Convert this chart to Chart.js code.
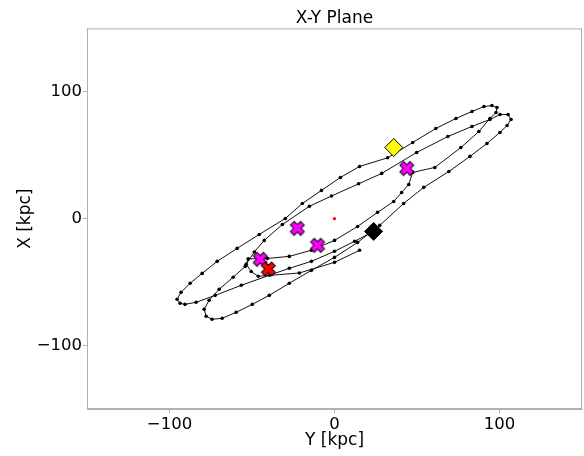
<!DOCTYPE html>
<html>
<head>
<meta charset="utf-8">
<script src="https://cdn.jsdelivr.net/npm/chart.js@4"></script>
<style>
  html, body { margin: 0; padding: 0; background: #fff; }
  #wrap { width: 584px; height: 456px; }
</style>
</head>
<body>
<div id="wrap"><canvas id="orbitChart"></canvas></div>
<script>
// orbit track, horizontal = Y [kpc], vertical = X [kpc]
const orbitY = [23.7, 12.2, 0.0, -14.0, -27.4, -39.5, -56.5, -72.3, -83.9, -90.6, -93.6, -95.4, -93.0, -87.5, -80.2, -71.1, -59.0, -45.6, -29.8, -19.5, -7.9, 3.6, 15.2, 32.2, 47.4, 61.4, 73.6, 83.3, 90.6, 95.4, 98.5, 97.9, 94.2, 87.5, 76.6, 60.8, 47.4, 45.0, 40.7, 35.9, 26.1, 14.0, 0.0, -14.0, -27.4, -40.7, -52.3, -54.1, -61.4, -69.9, -76.0, -79.0, -77.8, -74.2, -68.1, -59.6, -49.8, -39.5, -27.4, -14.0, 0.0, 14.0, 27.4, 41.9, 54.1, 69.3, 82.1, 92.4, 100.3, 104.6, 107.0, 105.2, 100.3, 94.2, 83.3, 68.7, 49.8, 28.6, 14.6, -1.8, -15.2, -31.6, -42.6, -48.6, -53.5, -50.5, -46.2, -21.3, 0.0, 15.2];
const orbitX = [-10.0, -17.8, -25.7, -33.6, -39.1, -44.6, -52.5, -60.4, -65.9, -67.5, -66.7, -63.5, -58.0, -50.9, -43.1, -33.6, -23.4, -12.4, 0.2, 12.0, 22.3, 32.5, 41.2, 48.0, 60.1, 71.1, 79.0, 84.5, 88.4, 89.2, 87.6, 83.7, 79.0, 68.7, 56.1, 40.4, 36.5, 27.0, 20.7, 13.6, 5.0, -6.1, -17.1, -24.9, -29.7, -31.3, -31.7, -37.6, -46.1, -55.6, -64.3, -71.4, -76.9, -79.3, -78.5, -73.8, -67.5, -60.4, -50.9, -40.7, -30.5, -18.7, -5.3, 12.0, 24.7, 37.2, 49.1, 59.3, 68.0, 73.5, 78.2, 82.1, 82.1, 78.2, 72.7, 64.8, 52.2, 35.7, 27.5, 17.9, 9.8, -4.6, -17.1, -26.2, -35.9, -41.6, -45.4, -42.8, -34.4, -24.9];

// markers
const startPt = { x: 35.9, y: 56.1 };
const endPt = { x: 23.7, y: -10.0 };
const crossY = [43.8, -22.5, -10.3, -45.0];
const crossX = [39.6, -7.6, -21.0, -32.0];
const redCross = { x: -40.1, y: -39.6 };
const centre = { x: 0, y: 0 };

const tickVals = [-100, 0, 100];
const FONT = "'DejaVu Sans', sans-serif";

function fatX(fill) {
  const c = document.createElement("canvas");
  c.width = 18; c.height = 18;
  const g = c.getContext("2d");
  g.translate(9, 9); g.rotate(Math.PI / 4);
  const L = 7.2, w = 2.6;
  g.beginPath();
  g.moveTo(-w, -L); g.lineTo(w, -L); g.lineTo(w, -w); g.lineTo(L, -w); g.lineTo(L, w); g.lineTo(w, w);
  g.lineTo(w, L); g.lineTo(-w, L); g.lineTo(-w, w); g.lineTo(-L, w); g.lineTo(-L, -w); g.lineTo(-w, -w);
  g.closePath();
  g.fillStyle = fill; g.fill();
  g.lineWidth = 1; g.strokeStyle = "#000"; g.stroke();
  return c;
}

const frame = {
  id: "frame",
  afterDraw(chart) {
    const a = chart.chartArea, ctx = chart.ctx;
    ctx.save();
    ctx.strokeStyle = "#b0b0b0"; ctx.lineWidth = 1;
    ctx.strokeRect(a.left + 0.5, a.top + 0.5, a.right - a.left - 1, a.bottom - a.top - 1);
    ctx.restore();
  }
};

const orbitPts = orbitY.map((v, i) => ({ x: v, y: orbitX[i] }));
const crossPts = crossY.map((v, i) => ({ x: v, y: crossX[i] }));
const fmt = v => (v < 0 ? "\u2212" + Math.abs(v) : String(v));

new Chart(document.getElementById("orbitChart"), {
  type: "scatter",
  data: { datasets: [
    { data: orbitPts, showLine: true, borderColor: "#111", borderWidth: 1, pointRadius: 1.8, pointBackgroundColor: "#000", pointBorderWidth: 0, order: 10 },
    { data: [centre], pointRadius: 1.6, pointBackgroundColor: "#ff0000", pointBorderWidth: 0, order: 5 },
    { data: [startPt], pointStyle: "rectRot", pointRadius: 9, pointBackgroundColor: "#ffff00", borderColor: "#000", pointBorderWidth: 1, order: 2 },
    { data: [endPt], pointStyle: "rectRot", pointRadius: 9, pointBackgroundColor: "#000", borderColor: "#000", pointBorderWidth: 1, order: 2 },
    { data: crossPts, pointStyle: fatX("#ff00ff"), order: 1 },
    { data: [redCross], pointStyle: fatX("#ff0000"), order: 0 }
  ]},
  options: {
    responsive: true, maintainAspectRatio: false, animation: false,
    layout: { autoPadding: false, padding: { left: 0, right: 2, top: 0, bottom: 0 } },
    plugins: {
      legend: { display: false }, tooltip: { enabled: false },
      title: { display: true, fullSize: false, text: "X-Y Plane", color: "#000", font: { family: FONT, size: 17, weight: "normal" }, padding: { top: 8, bottom: 0 } }
    },
    scales: {
      x: {
        min: -150, max: 150,
        afterBuildTicks: s => { s.ticks = tickVals.map(v => ({ value: v })); },
        afterFit: s => { s.height = 47; s.paddingLeft = 0; s.paddingRight = 0; },
        grid: { drawOnChartArea: false, drawTicks: true, tickLength: 4, color: "#b0b0b0" },
        border: { color: "#b0b0b0" },
        ticks: { color: "#000", font: { family: FONT, size: 16.5 }, padding: 2, maxRotation: 0, callback: fmt },
        title: { display: true, text: "Y [kpc]", color: "#000", font: { family: FONT, size: 17 }, padding: { top: 0, bottom: 5 } }
      },
      y: {
        min: -150, max: 150,
        afterBuildTicks: s => { s.ticks = tickVals.map(v => ({ value: v })); },
        afterFit: s => { s.width = 87; s.paddingTop = 0; s.paddingBottom = 0; },
        grid: { drawOnChartArea: false, drawTicks: true, tickLength: 4, color: "#b0b0b0" },
        border: { color: "#b0b0b0" },
        ticks: { color: "#000", font: { family: FONT, size: 16.5 }, padding: 1, callback: fmt },
        title: { display: true, text: "X [kpc]", color: "#000", font: { family: FONT, size: 17 }, padding: { top: 15, bottom: 0 } }
      }
    }
  },
  plugins: [frame]
});
</script>
</body>
</html>
